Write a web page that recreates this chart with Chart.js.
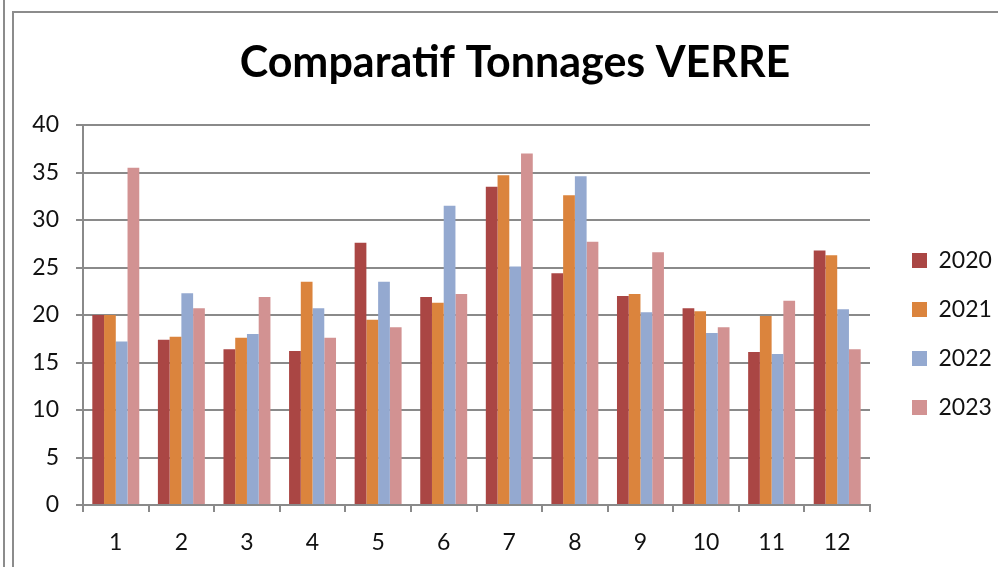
<!DOCTYPE html>
<html>
<head>
<meta charset="utf-8">
<script src="https://cdn.jsdelivr.net/npm/chart.js@4"></script>
<style>
  html, body { margin: 0; padding: 0; background: #ffffff; }
  #wrap { position: relative; width: 998px; height: 567px; overflow: hidden; }
  #c { position: absolute; left: 0; top: 0; }
  .frameA { position: absolute; left: 3px; top: 0; width: 2px; height: 567px; background: #8c8c8c; pointer-events: none; }
  .frameB { position: absolute; left: 12px; top: 11px; right: -4px; bottom: -4px; border-left: 2px solid #8c8c8c; border-top: 2px solid #8c8c8c; pointer-events: none; }
</style>
</head>
<body>
<div id="wrap">
  <canvas id="c" width="998" height="567"></canvas>
  <div class="frameA"></div>
  <div class="frameB"></div>
</div>
<script>
// ---- data ----
const titleText = "Comparatif Tonnages VERRE";
const months = ["1", "2", "3", "4", "5", "6", "7", "8", "9", "10", "11", "12"];
const seriesNames = ["2020", "2021", "2022", "2023"];
const tonnes2020 = [20.0, 17.4, 16.4, 16.2, 27.6, 21.9, 33.5, 24.4, 22.0, 20.7, 16.1, 26.8];
const tonnes2021 = [20.0, 17.7, 17.6, 23.5, 19.5, 21.3, 34.7, 32.6, 22.2, 20.4, 19.9, 26.3];
const tonnes2022 = [17.2, 22.3, 18.0, 20.7, 23.5, 31.5, 25.1, 34.6, 20.3, 18.1, 15.9, 20.6];
const tonnes2023 = [35.5, 20.7, 21.9, 17.6, 18.7, 22.2, 37.0, 27.7, 26.6, 18.7, 21.5, 16.4];
const yTicks = [0, 5, 10, 15, 20, 25, 30, 35, 40];

// ---- styles ----
const seriesColors = ["#AA4644", "#DB843D", "#94A9D0", "#D29292"];
const gridColor = "#8a8a8a";
const textColor = "#111111";
const FONT = "Lato, 'Open Sans', sans-serif";

const allSeries = [tonnes2020, tonnes2021, tonnes2022, tonnes2023];

new Chart(document.getElementById("c"), {
  type: "bar",
  data: {
    labels: months,
    datasets: seriesNames.map((name, i) => ({
      label: name,
      data: allSeries[i],
      backgroundColor: seriesColors[i],
      borderWidth: 0,
      categoryPercentage: 0.716,
      barPercentage: 1.0
    }))
  },
  options: {
    responsive: false,
    animation: false,
    devicePixelRatio: 1,
    layout: { padding: { left: 32, right: 0, top: 0, bottom: 0 } },
    plugins: {
      title: {
        display: true,
        text: titleText,
        color: "#000000",
        font: { family: FONT, size: 43, weight: "bold", lineHeight: 1.2 },
        padding: { top: 37, bottom: 36.4 }
      },
      legend: {
        display: true,
        position: "right",
        align: "center",
        fullSize: false,
        maxWidth: 112,
        title: { display: true, text: "", font: { size: 10, lineHeight: 1.2 }, padding: { top: 26, bottom: 0 } },
        labels: {
          boxWidth: 15,
          boxHeight: 15,
          padding: 26,
          color: textColor,
          font: { family: FONT, size: 23 }
        }
      },
      tooltip: { enabled: false }
    },
    scales: {
      x: {
        offset: true,
        grid: {
          display: true,
          drawOnChartArea: false,
          drawTicks: true,
          tickLength: 7,
          color: gridColor,
          lineWidth: 2,
          offset: true
        },
        border: { display: true, color: gridColor, width: 2 },
        ticks: {
          color: textColor,
          font: { family: FONT, size: 23 },
          padding: 17,
          maxRotation: 0,
          autoSkip: false
        },
        afterFit: (s) => { s.height = 62; }
      },
      y: {
        min: 0,
        max: 40,
        afterBuildTicks: (s) => { s.ticks = yTicks.map(v => ({ value: v })); },
        grid: {
          display: true,
          drawOnChartArea: true,
          drawTicks: true,
          tickLength: 7,
          color: gridColor,
          lineWidth: 2
        },
        border: { display: true, color: gridColor, width: 2 },
        ticks: {
          color: textColor,
          font: { family: FONT, size: 23 },
          padding: 17
        },
        afterFit: (s) => { s.width = 51; }
      },
      spacer: {
        type: "linear",
        position: "right",
        display: true,
        grid: { display: false, drawTicks: false },
        border: { display: false },
        ticks: { display: false },
        afterFit: (s) => { s.width = 16; }
      }
    }
  }
});
</script>
</body>
</html>
